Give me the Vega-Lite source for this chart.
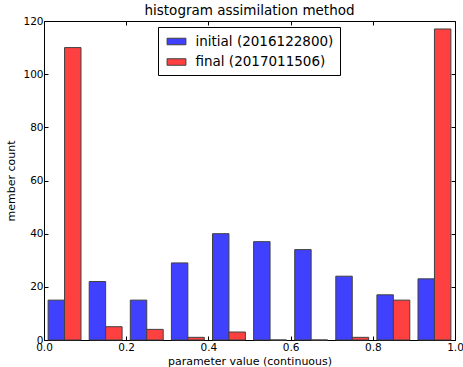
{
  "$schema": "https://vega.github.io/schema/vega-lite/v6.json",
  "width": 411,
  "height": 319,
  "autosize": {"type": "none"},
  "padding": {"left": 44, "top": 21, "right": 8, "bottom": 27},
  "title": {"text": "histogram assimilation method", "fontSize": 13.5, "fontWeight": "normal", "font": "DejaVu Sans", "offset": -1, "color": "black"},
  "data": {"values": [
    {"bin_start": 0.0, "series": "initial (2016122800)", "count": 15},
    {"bin_start": 0.1, "series": "initial (2016122800)", "count": 22},
    {"bin_start": 0.2, "series": "initial (2016122800)", "count": 15},
    {"bin_start": 0.3, "series": "initial (2016122800)", "count": 29},
    {"bin_start": 0.4, "series": "initial (2016122800)", "count": 40},
    {"bin_start": 0.5, "series": "initial (2016122800)", "count": 37},
    {"bin_start": 0.6, "series": "initial (2016122800)", "count": 34},
    {"bin_start": 0.7, "series": "initial (2016122800)", "count": 24},
    {"bin_start": 0.8, "series": "initial (2016122800)", "count": 17},
    {"bin_start": 0.9, "series": "initial (2016122800)", "count": 23},
    {"bin_start": 0.0, "series": "final (2017011506)", "count": 110},
    {"bin_start": 0.1, "series": "final (2017011506)", "count": 5},
    {"bin_start": 0.2, "series": "final (2017011506)", "count": 4},
    {"bin_start": 0.3, "series": "final (2017011506)", "count": 1},
    {"bin_start": 0.4, "series": "final (2017011506)", "count": 3},
    {"bin_start": 0.5, "series": "final (2017011506)", "count": 0},
    {"bin_start": 0.6, "series": "final (2017011506)", "count": 0},
    {"bin_start": 0.7, "series": "final (2017011506)", "count": 1},
    {"bin_start": 0.8, "series": "final (2017011506)", "count": 15},
    {"bin_start": 0.9, "series": "final (2017011506)", "count": 117}
  ]},
  "layer": [
    {
      "mark": {"type": "bar", "stroke": "#404040", "strokeWidth": 1},
      "encoding": {
        "x": {"field": "bin_start", "type": "ordinal", "sort": "ascending",
              "scale": {"paddingInner": 0, "paddingOuter": 0},
              "axis": null},
        "xOffset": {"field": "series", "type": "nominal", "sort": ["initial (2016122800)", "final (2017011506)"], "scale": {"paddingInner": 0, "paddingOuter": 0.25}},
        "y": {"field": "count", "type": "quantitative",
              "scale": {"domain": [0, 120], "nice": false},
              "axis": {"orient": "left", "values": [0, 20, 40, 60, 80, 100, 120], "title": "member count", "grid": false, "domain": false, "tickSize": -4, "tickColor": "black", "labelPadding": 5, "labelFontSize": 10.5, "labelColor": "black", "titleFontSize": 11, "titleFontWeight": "normal", "titleColor": "black", "titlePadding": 6}},
        "color": {"field": "series", "type": "nominal", "sort": ["initial (2016122800)", "final (2017011506)"],
                  "scale": {"domain": ["initial (2016122800)", "final (2017011506)"], "range": ["#4040ff", "#ff4040"]},
                  "legend": {"orient": "none", "legendX": 114, "legendY": 6, "title": null, "symbolType": "M-1.3,-0.45H1.3V0.45H-1.3Z", "symbolSize": 210, "symbolStrokeColor": "#404040", "symbolStrokeWidth": 1, "symbolOpacity": 1, "labelFontSize": 13.5, "labelColor": "black", "labelFont": "DejaVu Sans", "strokeColor": "black", "fillColor": "white", "padding": 6.5, "rowPadding": 5.5, "labelOffset": 11, "symbolOffset": 4}}
      }
    },
    {
      "mark": {"type": "point", "opacity": 0},
      "encoding": {
        "x": {"field": "bin_start", "type": "quantitative",
              "scale": {"domain": [0, 1], "nice": false, "zero": false},
              "axis": {"orient": "bottom", "values": [0, 0.2, 0.4, 0.6, 0.8, 1.0], "format": ".1f", "title": "parameter value (continuous)", "grid": false, "domain": false, "tickSize": -4, "tickColor": "black", "labelPadding": 6, "labelFontSize": 10.5, "labelColor": "black", "titleFontSize": 11, "titleFontWeight": "normal", "titleColor": "black", "titlePadding": 3, "labelFlush": false}},
        "y": {"field": "count", "type": "quantitative", "axis": null}
      }
    },
    {
      "mark": {"type": "point", "opacity": 0},
      "encoding": {
        "x": {"field": "bin_start", "type": "quantitative",
              "scale": {"domain": [0, 1], "nice": false, "zero": false},
              "axis": {"orient": "top", "values": [0, 0.2, 0.4, 0.6, 0.8, 1.0], "labels": false, "title": null, "grid": false, "domain": false, "tickSize": -4, "tickColor": "black"}},
        "y": {"field": "count", "type": "quantitative",
              "axis": {"orient": "right", "values": [0, 20, 40, 60, 80, 100, 120], "labels": false, "title": null, "grid": false, "domain": false, "tickSize": -4, "tickColor": "black"}}
      }
    }
  ],
  "resolve": {"scale": {"x": "independent"}, "axis": {"x": "independent", "y": "independent"}},
  "config": {
    "font": "DejaVu Sans",
    "view": {"stroke": "black", "strokeWidth": 1},
    "axis": {"labelFont": "DejaVu Sans", "titleFont": "DejaVu Sans"}
  }
}
